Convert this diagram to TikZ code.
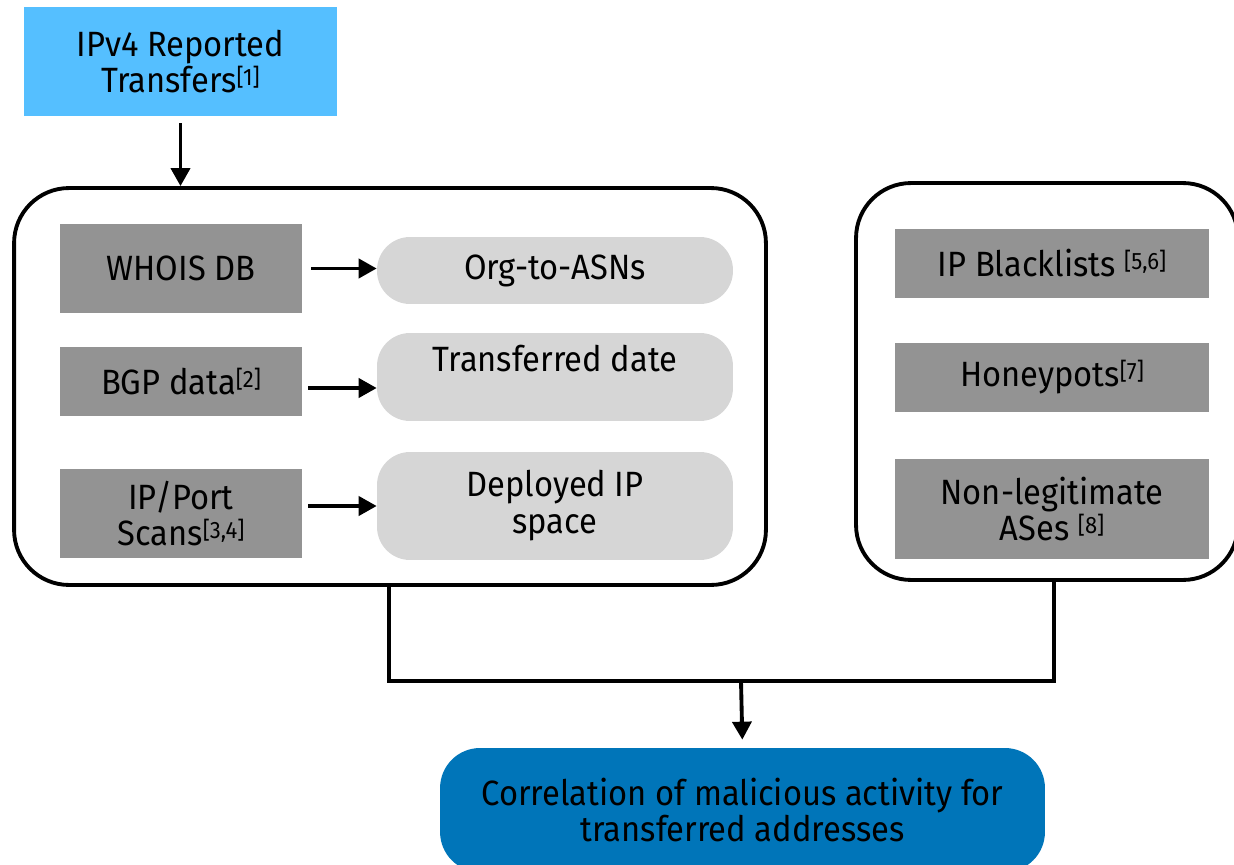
\documentclass[tikz,border=0pt]{standalone}
\usepackage{fontspec}
\setmainfont{Fira Sans}[FakeStretch=0.93]
\usetikzlibrary{arrows.meta}
\definecolor{bluetop}{HTML}{55BFFF}
\definecolor{darkbox}{HTML}{939393}
\definecolor{lightbox}{HTML}{D6D6D6}
\definecolor{bluebot}{HTML}{0075B9}
\newcommand\refmark[1]{\raisebox{4pt}{\fontsize{13.5}{13.5}\selectfont[#1]}}
\begin{document}
\begin{tikzpicture}[x=0.02cm,y=-0.02cm,
  font=\fontsize{20}{21}\selectfont,
  box/.style={inner sep=0pt, align=center, text=black},
  srcbox/.style={box, fill=darkbox},
  resbox/.style={box, fill=lightbox, rounded corners=0.66cm},
  container/.style={draw, line width=2.2pt, rounded corners=1.1cm},
  arr/.style={line width=2.2pt, -{Triangle[length=0.36cm,width=0.38cm]}},
  conn/.style={line width=2.1pt}]
\useasboundingbox (0,0) rectangle (1234,865);
\node[box, fill=bluetop, minimum width=6.26cm, minimum height=2.18cm] (ipv4) at (180.5,61.5) {IPv4 Reported\\Transfers\refmark{1}};
\node[container, minimum width=15.04cm, minimum height=7.94cm] (left) at (390,386.5) {};
\node[srcbox, minimum width=4.84cm, minimum height=1.78cm] (whois) at (181,268.5) {WHOIS DB};
\node[srcbox, minimum width=4.84cm, minimum height=1.38cm] (bgp) at (181,381.5) {BGP data\refmark{2}};
\node[srcbox, minimum width=4.84cm, minimum height=1.78cm] (scan) at (181,513.5) {IP/Port\\Scans\refmark{3,4}};
\node[resbox, minimum width=7.12cm, minimum height=1.34cm] (org) at (555,270.5) {Org-to-ASNs};
\node[resbox, minimum width=7.12cm, minimum height=1.76cm] (tdate) at (555,377) {Transferred date\\\mbox{}};
\node[resbox, minimum width=7.12cm, minimum height=2.16cm] (dep) at (555,506) {Deployed IP\\space};
\node[container, minimum width=7.64cm, minimum height=7.94cm] (right) at (1047,381.5) {};
\node[srcbox, minimum width=6.28cm, minimum height=1.38cm] (bl) at (1052,263.5) {IP Blacklists \refmark{5,6}};
\node[srcbox, minimum width=6.28cm, minimum height=1.38cm] (hp) at (1052,377.5) {Honeypots\refmark{7}};
\node[srcbox, minimum width=6.28cm, minimum height=2.0cm] (nl) at (1052,509) {Non-legitimate\\ASes \refmark{8}};
\node[box, fill=bluebot, rounded corners=0.8cm, minimum width=12.1cm, minimum height=2.48cm] (corr) at (742.5,810) {Correlation of malicious activity for\\transferred addresses};
\coordinate (jl) at (389,681);
\coordinate (jr) at (1054,681);
\coordinate (jm) at (741,681);
\draw[arr, shorten <=0.14cm] (ipv4.south) -- (ipv4.south |- left.north);
\draw[arr, shorten <=0.18cm] (whois.east) -- (whois.east -| org.west);
\draw[arr] ([xshift=0.12cm,yshift=-0.13cm]bgp.east) -- ([yshift=-0.13cm]bgp.east -| tdate.west);
\draw[arr] ([xshift=0.12cm,yshift=0.15cm]scan.east) -- ([yshift=0.15cm]scan.east -| dep.west);
\draw[conn] (left.south -| jl) -- (jl) -- (jr) -- (right.south -| jr);
\draw[arr, shorten >=0.16cm] (jm) -- (corr.north);
\end{tikzpicture}
\end{document}
